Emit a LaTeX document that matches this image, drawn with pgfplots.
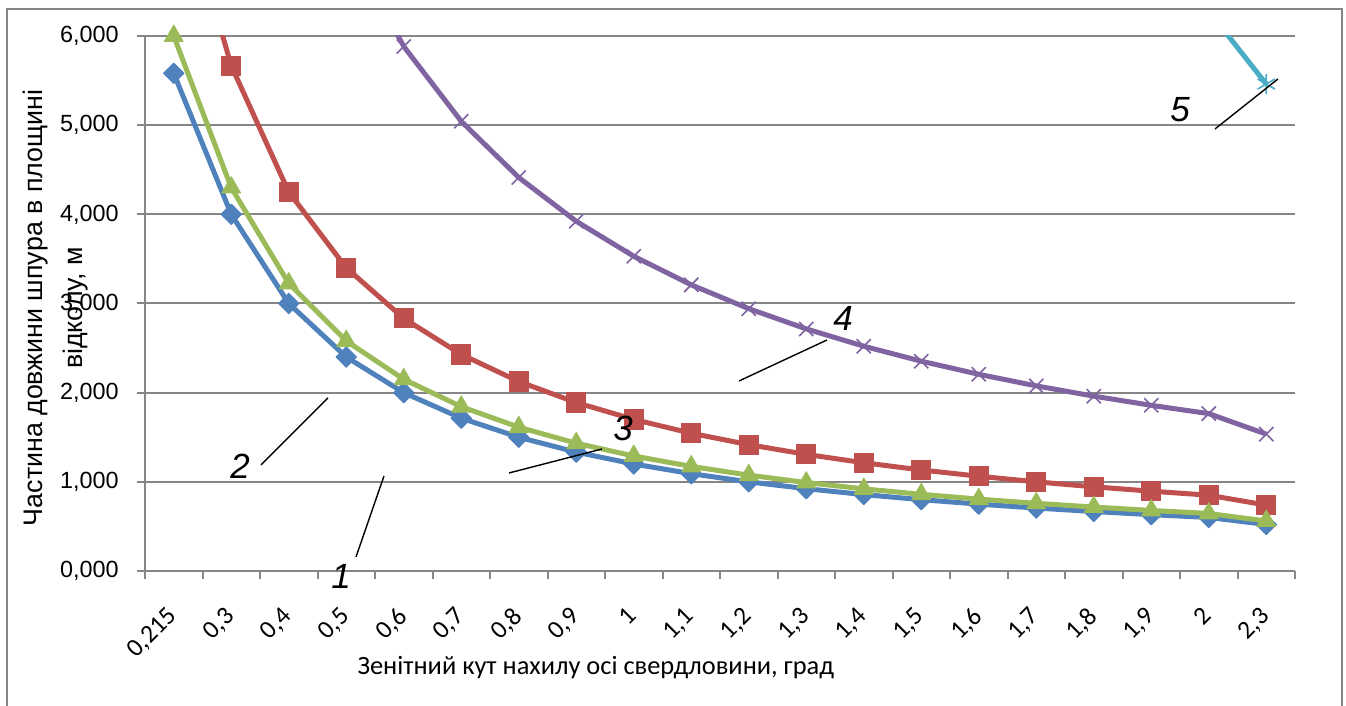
\documentclass[border=0pt]{standalone}
\usepackage{fontspec}
\setmainfont{Carlito}
\newfontfamily\arialfont{Liberation Sans}
\usepackage{pgfplots}
\pgfplotsset{compat=1.18}

\definecolor{s1}{HTML}{4F81BD}
\definecolor{s2}{HTML}{C0504D}
\definecolor{s3}{HTML}{9BBB59}
\definecolor{s4}{HTML}{8064A2}
\definecolor{s5}{HTML}{4BACC6}
\definecolor{gridgray}{HTML}{868686}

% x = category index (0 = 0,215 ... 19 = 2,3)
\pgfplotstableread{
x  y
0  5.581
1  4.000
2  3.000
3  2.400
4  2.000
5  1.714
6  1.500
7  1.333
8  1.200
9  1.091
10 1.000
11 0.923
12 0.857
13 0.800
14 0.750
15 0.706
16 0.667
17 0.632
18 0.600
19 0.522
}\seriesA
\pgfplotstableread{
x  y
0  7.907
1  5.667
2  4.250
3  3.400
4  2.833
5  2.429
6  2.125
7  1.889
8  1.700
9  1.545
10 1.417
11 1.308
12 1.214
13 1.133
14 1.063
15 1.000
16 0.944
17 0.895
18 0.850
19 0.739
}\seriesB
\pgfplotstableread{
x  y
0  6.000
1  4.300
2  3.225
3  2.580
4  2.150
5  1.843
6  1.613
7  1.433
8  1.290
9  1.173
10 1.075
11 0.992
12 0.921
13 0.860
14 0.806
15 0.759
16 0.717
17 0.679
18 0.645
19 0.561
}\seriesC
\pgfplotstableread{
x  y
0  16.42
1  11.77
2  8.825
3  7.060
4  5.883
5  5.043
6  4.413
7  3.922
8  3.530
9  3.209
10 2.942
11 2.715
12 2.521
13 2.353
14 2.206
15 2.076
16 1.961
17 1.858
18 1.765
19 1.535
}\seriesD
\pgfplotstableread{
x  y
0  58.42
1  41.87
2  31.40
3  25.12
4  20.93
5  17.94
6  15.70
7  13.96
8  12.56
9  11.42
10 10.47
11 9.662
12 8.971
13 8.373
14 7.850
15 7.388
16 6.978
17 6.611
18 6.280
19 5.461
}\seriesE

\begin{document}
\begin{tikzpicture}
\useasboundingbox (0,0) rectangle (673bp,353bp);
\begin{axis}[
  at={(72.5bp,67.5bp)}, anchor=south west,
  scale only axis, width=575bp, height=267.5bp,
  xmin=-0.5, xmax=19.5, ymin=0, ymax=6,
  axis x line*=bottom, axis y line*=left,
  axis line style={gridgray, line width=1bp},
  xtick={0,...,19},
  xticklabels={{0,215},{0,3},{0,4},{0,5},{0,6},{0,7},{0,8},{0,9},{1},{1,1},{1,2},{1,3},{1,4},{1,5},{1,6},{1,7},{1,8},{1,9},{2},{2,3}},
  minor xtick={-0.5,0.5,...,19.5},
  ytick={0,1,...,6},
  tick align=outside,
  major tick length=4bp, minor tick length=4bp,
  major x tick style={draw=none},
  tick style={gridgray, line width=1bp},
  ymajorgrids, grid style={gridgray, line width=1bp},
  /pgf/number format/assume math mode=true,
  /pgf/number format/fixed,
  /pgf/number format/fixed zerofill,
  /pgf/number format/precision=3,
  /pgf/number format/use comma,
  yticklabel style={font=\arialfont\fontsize{11.7bp}{14bp}\selectfont, anchor=east, inner sep=0pt, xshift=-9bp},
  xticklabel style={font=\fontsize{12.8bp}{15bp}\selectfont, rotate=45, anchor=north east, inner sep=0pt, xshift=-12bp, yshift=-6.5bp},
  xlabel={Зенітний кут нахилу осі свердловини, град},
  xlabel style={font=\fontsize{13.2bp}{15bp}\selectfont, at={(axis description cs:0.392,-0.181)}, anchor=center},
  ylabel={Частина довжини шпура в площині\\[5bp]відколу, м},
  ylabel style={font=\arialfont\fontsize{13.4bp}{15bp}\selectfont, align=center, at={(axis description cs:-0.078,0.4916)}, anchor=center, rotate=0},
  clip mode=individual,
  every axis plot/.append style={line width=2.5bp, line join=round},
]
\addplot[s1, mark=square*, mark size=3.6bp, mark options={rotate=45, fill=s1, line width=0.5bp}] table {\seriesA};
\addplot[s2, mark=square*, mark size=4.8bp, mark options={fill=s2, line width=0.5bp}] table {\seriesB};
\addplot[s3, mark=triangle*, mark size=5.4bp, mark options={fill=s3, line width=0.5bp}] table {\seriesC};
\addplot[s4, mark=x, mark size=5bp, mark options={line width=0.8bp}] table {\seriesD};
\addplot[s5, mark=asterisk, mark size=5bp, mark options={line width=0.8bp}] table {\seriesE};
\end{axis}
% series numbers with leader lines, positioned on the 1346x706 grid
\begin{scope}[shift={(0,353bp)}, x=0.5bp, y=-0.5bp]
  \draw[gridgray, line width=1bp] (7,730) -- (7,9) -- (1342,9) -- (1342,730);
  \begin{scope}[black, line width=0.7bp]
    \draw (356,557) -- (384,476);
    \draw (261,465) -- (328,398);
    \draw (509,473) -- (602,449);
    \draw (739,381) -- (827,340);
    \draw (1215,129) -- (1278,79);
  \end{scope}
  \begin{scope}[every node/.style={font=\arialfont\itshape\fontsize{17.5bp}{20bp}\selectfont, inner sep=0pt}]
    \node at (341,576) {1};
    \node at (240,466) {2};
    \node at (623,428) {3};
    \node at (843,318) {4};
    \node at (1180,110) {5};
  \end{scope}
\end{scope}
\end{tikzpicture}
\end{document}
